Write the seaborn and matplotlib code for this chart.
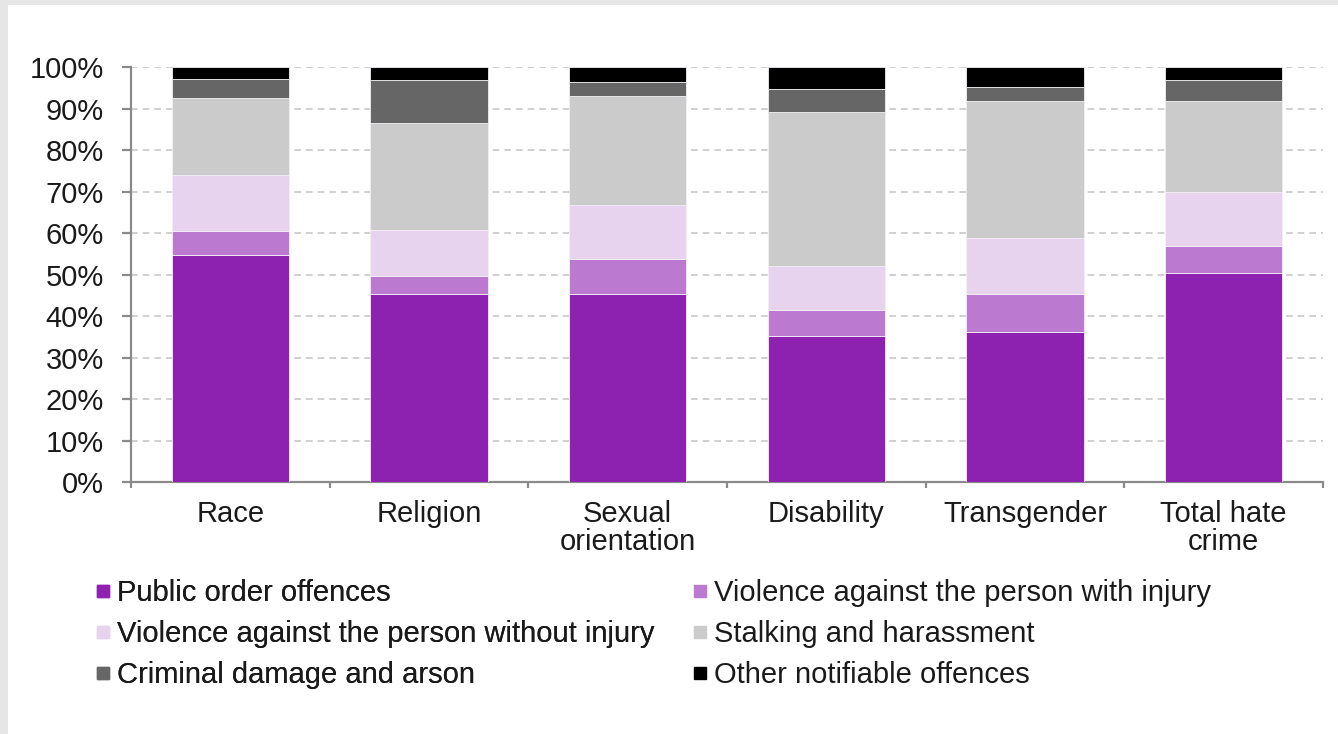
import matplotlib
matplotlib.use("Agg")
import matplotlib.pyplot as plt
from matplotlib.patches import Rectangle
from matplotlib.lines import Line2D
import seaborn as sns
import numpy as np

categories = ["Race", "Religion", "Sexual\norientation", "Disability", "Transgender", "Total hate\ncrime"]
public_order = [54.8, 45.3, 45.4, 35.2, 36.2, 50.5]
vap_injury = [5.8, 4.4, 8.3, 6.3, 9.1, 6.4]
vap_no_injury = [13.5, 11.2, 13.0, 10.6, 13.6, 13.1]
stalking = [18.5, 25.6, 26.5, 37.1, 33.1, 22.0]
criminal_damage = [4.5, 10.4, 3.2, 5.6, 3.3, 4.9]
other_offences = [2.9, 3.1, 3.6, 5.2, 4.7, 3.1]

series_names = ["Public order offences", "Violence against the person with injury",
                "Violence against the person without injury", "Stalking and harassment",
                "Criminal damage and arson", "Other notifiable offences"]
series_values = [public_order, vap_injury, vap_no_injury, stalking, criminal_damage, other_offences]
colors = ["#8E22B0", "#BB79CF", "#E8D3EF", "#CBCBCB", "#666666", "#000000"]
yticks = [0, 10, 20, 30, 40, 50, 60, 70, 80, 90, 100]
ytick_labels = [f"{v}%" for v in yticks]

sns.set_theme(style="white")
plt.rcParams["font.family"] = ["Liberation Sans", "DejaVu Sans"]

FS = 21
W, H = 1338, 734
fig = plt.figure(figsize=(W / 100, H / 100), dpi=100)
fig.patch.set_facecolor("#e6e6e6")
fig.add_artist(Rectangle((8 / W, 0), 1, 1 - 5 / H, transform=fig.transFigure,
                         facecolor="white", edgecolor="none", zorder=-10))

ax = fig.add_axes([131 / W, 1 - 482.3 / H, (1323 - 131) / W, (482.3 - 67.3) / H])
ax.set_facecolor("none")

bottom = np.zeros(len(categories))
for name, vals, col in zip(series_names, series_values, colors):
    sns.barplot(x=categories, y=vals, bottom=bottom, color=col, width=0.59,
                order=categories, ax=ax, edgecolor="#f4eef6", linewidth=0.6,
                saturation=1, zorder=3)
    bottom = bottom + np.array(vals)

ax.set_xlim(-0.5, len(categories) - 0.5)
ax.set_ylim(0, 100)
ax.set_yticks(yticks)
ax.set_yticklabels(ytick_labels)
ax.yaxis.grid(True, linestyle=(0, (4, 3)), color="#c8c8c8", linewidth=1.2, zorder=0)
ax.xaxis.grid(False)
ax.set_axisbelow(True)

for s in ["top", "right"]:
    ax.spines[s].set_visible(False)
for s in ["left", "bottom"]:
    ax.spines[s].set_color("#8a8a8a")
    ax.spines[s].set_linewidth(1.6)

ax.tick_params(axis="y", which="major", length=6.5, width=1.6, color="#8a8a8a",
               direction="out", pad=13, labelsize=FS, labelcolor="#1a1a1a", left=True)
ax.set_xticks(range(len(categories)))
ax.set_xticklabels(categories, linespacing=1.0)
ax.set_xticks(np.arange(-0.5, len(categories), 1), minor=True)
ax.tick_params(axis="x", which="major", length=0, pad=13, labelsize=FS, labelcolor="#1a1a1a")
ax.tick_params(axis="x", which="minor", length=4, width=1.6, color="#8a8a8a", direction="out", bottom=True)
ax.set_xlabel("")
ax.set_ylabel("")

handles = [Line2D([0], [0], marker="s", linestyle="none", markersize=9,
                  markerfacecolor=c, markeredgecolor=c) for c in colors]

col1 = [0, 2, 4]
col2 = [1, 3, 5]
common = dict(frameon=False, fontsize=FS, loc="upper left", borderpad=0, borderaxespad=0,
              handlelength=0.55, handletextpad=0.2, labelspacing=0.45, ncol=1,
              labelcolor="#1a1a1a")
leg1 = fig.legend([handles[i] for i in col1], [series_names[i] for i in col1],
                  bbox_to_anchor=(95 / W, 1 - 579 / H), **common)
fig.add_artist(leg1)
leg2 = fig.legend([handles[i] for i in col2], [series_names[i] for i in col2],
                  bbox_to_anchor=(692 / W, 1 - 579 / H), **common)

fig.savefig("out.png", dpi=100, facecolor=fig.get_facecolor())
